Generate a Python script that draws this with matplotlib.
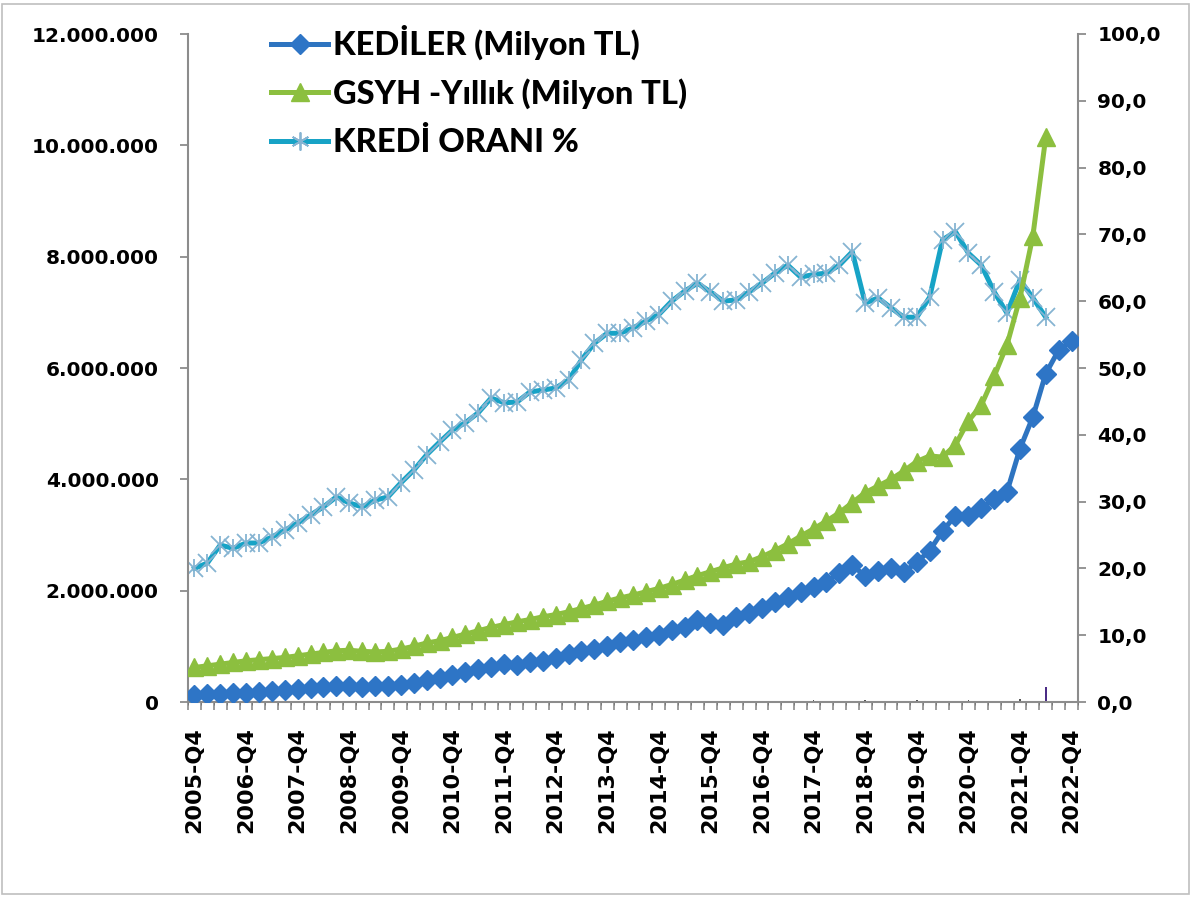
import matplotlib
matplotlib.use("Agg")
import matplotlib.pyplot as plt
from matplotlib.ticker import FuncFormatter, FixedLocator
from matplotlib.patches import Rectangle
from matplotlib.lines import Line2D

# ---------------- data ----------------
quarters = [f"{y}-Q{q}" for y in range(2005, 2023) for q in range(1, 5)][3:]  # 2005-Q4 .. 2022-Q4
tick_labels = [f"{y}-Q4" for y in range(2005, 2023)]

# KREDİLER (Milyon TL), values in millions (x1e6 on axis)
krediler = [0.13, 0.14, 0.15, 0.16, 0.17, 0.18, 0.20, 0.21, 0.23, 0.25,
            0.27, 0.28, 0.28, 0.27, 0.28, 0.29, 0.31, 0.35, 0.39, 0.43,
            0.48, 0.53, 0.60, 0.63, 0.68, 0.66, 0.71, 0.74, 0.79, 0.86,
            0.92, 0.96, 1.00, 1.08, 1.12, 1.17, 1.20, 1.29, 1.35, 1.47,
            1.42, 1.38, 1.53, 1.60, 1.69, 1.80, 1.89, 1.98, 2.07, 2.16,
            2.32, 2.46, 2.26, 2.36, 2.40, 2.33, 2.51, 2.72, 3.07, 3.35,
            3.35, 3.49, 3.64, 3.78, 4.55, 5.12, 5.90, 6.32, 6.49]

# GSYH - Yıllık (Milyon TL), values in millions
gsyh = [0.62, 0.65, 0.68, 0.71, 0.74, 0.76, 0.78, 0.80, 0.83, 0.86,
        0.89, 0.92, 0.93, 0.91, 0.90, 0.91, 0.95, 1.00, 1.06, 1.10,
        1.16, 1.22, 1.28, 1.34, 1.39, 1.44, 1.48, 1.53, 1.57, 1.62,
        1.68, 1.74, 1.81, 1.87, 1.92, 1.98, 2.04, 2.11, 2.19, 2.27,
        2.34, 2.41, 2.48, 2.52, 2.61, 2.72, 2.84, 2.98, 3.11, 3.25,
        3.40, 3.58, 3.76, 3.88, 4.00, 4.15, 4.32, 4.42, 4.40, 4.62,
        5.05, 5.33, 5.85, 6.42, 7.26, 8.37, 10.15]

# KREDİ ORANI %
oran = [20.0, 20.8, 23.5, 23.0, 23.8, 23.8, 24.7, 25.7, 26.8, 28.0,
        29.2, 30.7, 29.8, 29.2, 30.2, 30.7, 32.8, 34.7, 37.0, 38.9,
        40.7, 41.8, 43.3, 45.5, 44.8, 44.9, 46.4, 46.7, 47.0, 48.2,
        51.2, 53.7, 55.2, 55.2, 56.0, 57.0, 58.0, 60.0, 61.5, 62.7,
        61.4, 60.0, 60.2, 61.4, 62.7, 64.2, 65.4, 63.6, 64.0, 64.2,
        65.4, 67.4, 59.7, 60.5, 59.0, 57.6, 57.6, 60.6, 69.2, 70.4,
        67.2, 65.4, 61.4, 58.2, 63.2, 60.5, 57.6]

# small unlabeled marks near the base (right axis)
small_idx = [48, 52, 56, 60, 64, 66]
small_val = [0.3, 0.3, 0.3, 0.3, 0.5, 2.2]

# ---------------- figure ----------------
W, H = 1194, 897
fig = plt.figure(figsize=(W / 100, H / 100), dpi=100)
fig.patch.set_facecolor("white")
fig.add_artist(Rectangle((0.002, 0.003), 0.994, 0.993, transform=fig.transFigure,
                         fill=False, edgecolor="#BFBFBF", lw=1.2))

L, R, T, B = 188, 1078, 34, 702
rect = [L / W, 1 - B / H, (R - L) / W, (B - T) / H]
ax2 = fig.add_axes(rect)             # right axis (ratio)
ax = fig.add_axes(rect, sharex=ax2)  # left axis (TL)
ax.set_zorder(ax2.get_zorder() + 1)
ax.patch.set_visible(False)

x_all = list(range(len(quarters)))
spine_c = "#8C8C8C"
blue, green, cyan, star = "#2E74C0", "#8CBF3F", "#17A3C6", "#86B4D2"
LW = 3.6

# right-axis series
ax2.bar(small_idx, small_val, width=0.12,
        color=["#555555"] * 5 + ["#4B2C86"], zorder=1)
xr = x_all[:len(oran)]
ax2.plot(xr, oran, color=cyan, lw=LW, zorder=2, solid_joinstyle="round")
ax2.plot(xr, oran, ls="none", marker="x", ms=13, mew=1.3, mec=star, zorder=3)
ax2.plot(xr, oran, ls="none", marker="|", ms=13, mew=1.3, mec=star, zorder=3)

# left-axis series
xg = x_all[:len(gsyh)]
ax.plot(xg, [v * 1e6 for v in gsyh], color=green, lw=LW, marker="^", ms=13,
        mfc=green, mec=green, zorder=3)
ax.plot(x_all, [v * 1e6 for v in krediler], color=blue, lw=LW, marker="D", ms=10.5,
        mfc="#2E75C6", mec="#2E75C6", zorder=4)

# axes limits
ax.set_xlim(-0.5, len(quarters) - 0.5)
ax.set_ylim(0, 12e6)
ax2.set_ylim(0, 100)

# spines
for a in (ax, ax2):
    for s in a.spines.values():
        s.set_visible(False)
for s in ("left", "bottom"):
    ax.spines[s].set_visible(True)
    ax.spines[s].set_color(spine_c)
    ax.spines[s].set_linewidth(1.5)
ax2.spines["right"].set_visible(True)
ax2.spines["right"].set_color(spine_c)
ax2.spines["right"].set_linewidth(1.5)

# left ticks
ax.set_yticks([i * 2e6 for i in range(7)])
ax.yaxis.set_major_formatter(FuncFormatter(lambda v, p: f"{int(round(v)):,}".replace(",", ".")))
ax.tick_params(axis="y", direction="out", length=6, width=1.3, color=spine_c, pad=15,
               labelsize=14.5)
# right ticks
ax2.yaxis.tick_right()
ax2.set_yticks([i * 10 for i in range(11)])
ax2.yaxis.set_major_formatter(FuncFormatter(lambda v, p: f"{v:.1f}".replace(".", ",")))
ax2.tick_params(axis="y", direction="out", length=6, width=1.3, color=spine_c, pad=8,
                labelsize=14.5)
ax2.tick_params(axis="x", bottom=False, labelbottom=False)

# x ticks: labels every 4 quarters, tick marks at category boundaries
label_pos = [quarters.index(t) for t in tick_labels]
ax.xaxis.set_major_locator(FixedLocator(label_pos))
ax.set_xticklabels(tick_labels, rotation=90, fontsize=16)
ax.xaxis.set_minor_locator(FixedLocator([i - 0.5 for i in range(len(quarters) + 1)]))
ax.tick_params(axis="x", which="major", length=0, pad=18)
ax.tick_params(axis="x", which="minor", direction="out", length=6, width=1.2, color=spine_c)

for lab in ax.get_yticklabels() + ax2.get_yticklabels() + ax.get_xticklabels():
    lab.set_fontweight("bold")

# legend
handles = [
    Line2D([], [], color=blue, lw=LW, marker="D", ms=10.5, mfc="#2E75C6", mec="#2E75C6"),
    Line2D([], [], color=green, lw=LW, marker="^", ms=13, mfc=green, mec=green),
    Line2D([], [], color=cyan, lw=LW, marker=(6, 2, 0), ms=13, mec=star, mew=1.3),
]
labels = ["KEDİLER (Milyon TL)", "GSYH -Yıllık (Milyon TL)", "KREDİ ORANI %"]
fig.legend(handles, labels, loc="upper left", bbox_to_anchor=(258 / W, 1 - 12 / H),
           frameon=False, prop={"family": "Lato", "weight": "black", "size": 23.5},
           handlelength=1.75, handletextpad=0.15, labelspacing=0.55, borderaxespad=0)

fig.savefig("out.png", dpi=100, facecolor="white")
